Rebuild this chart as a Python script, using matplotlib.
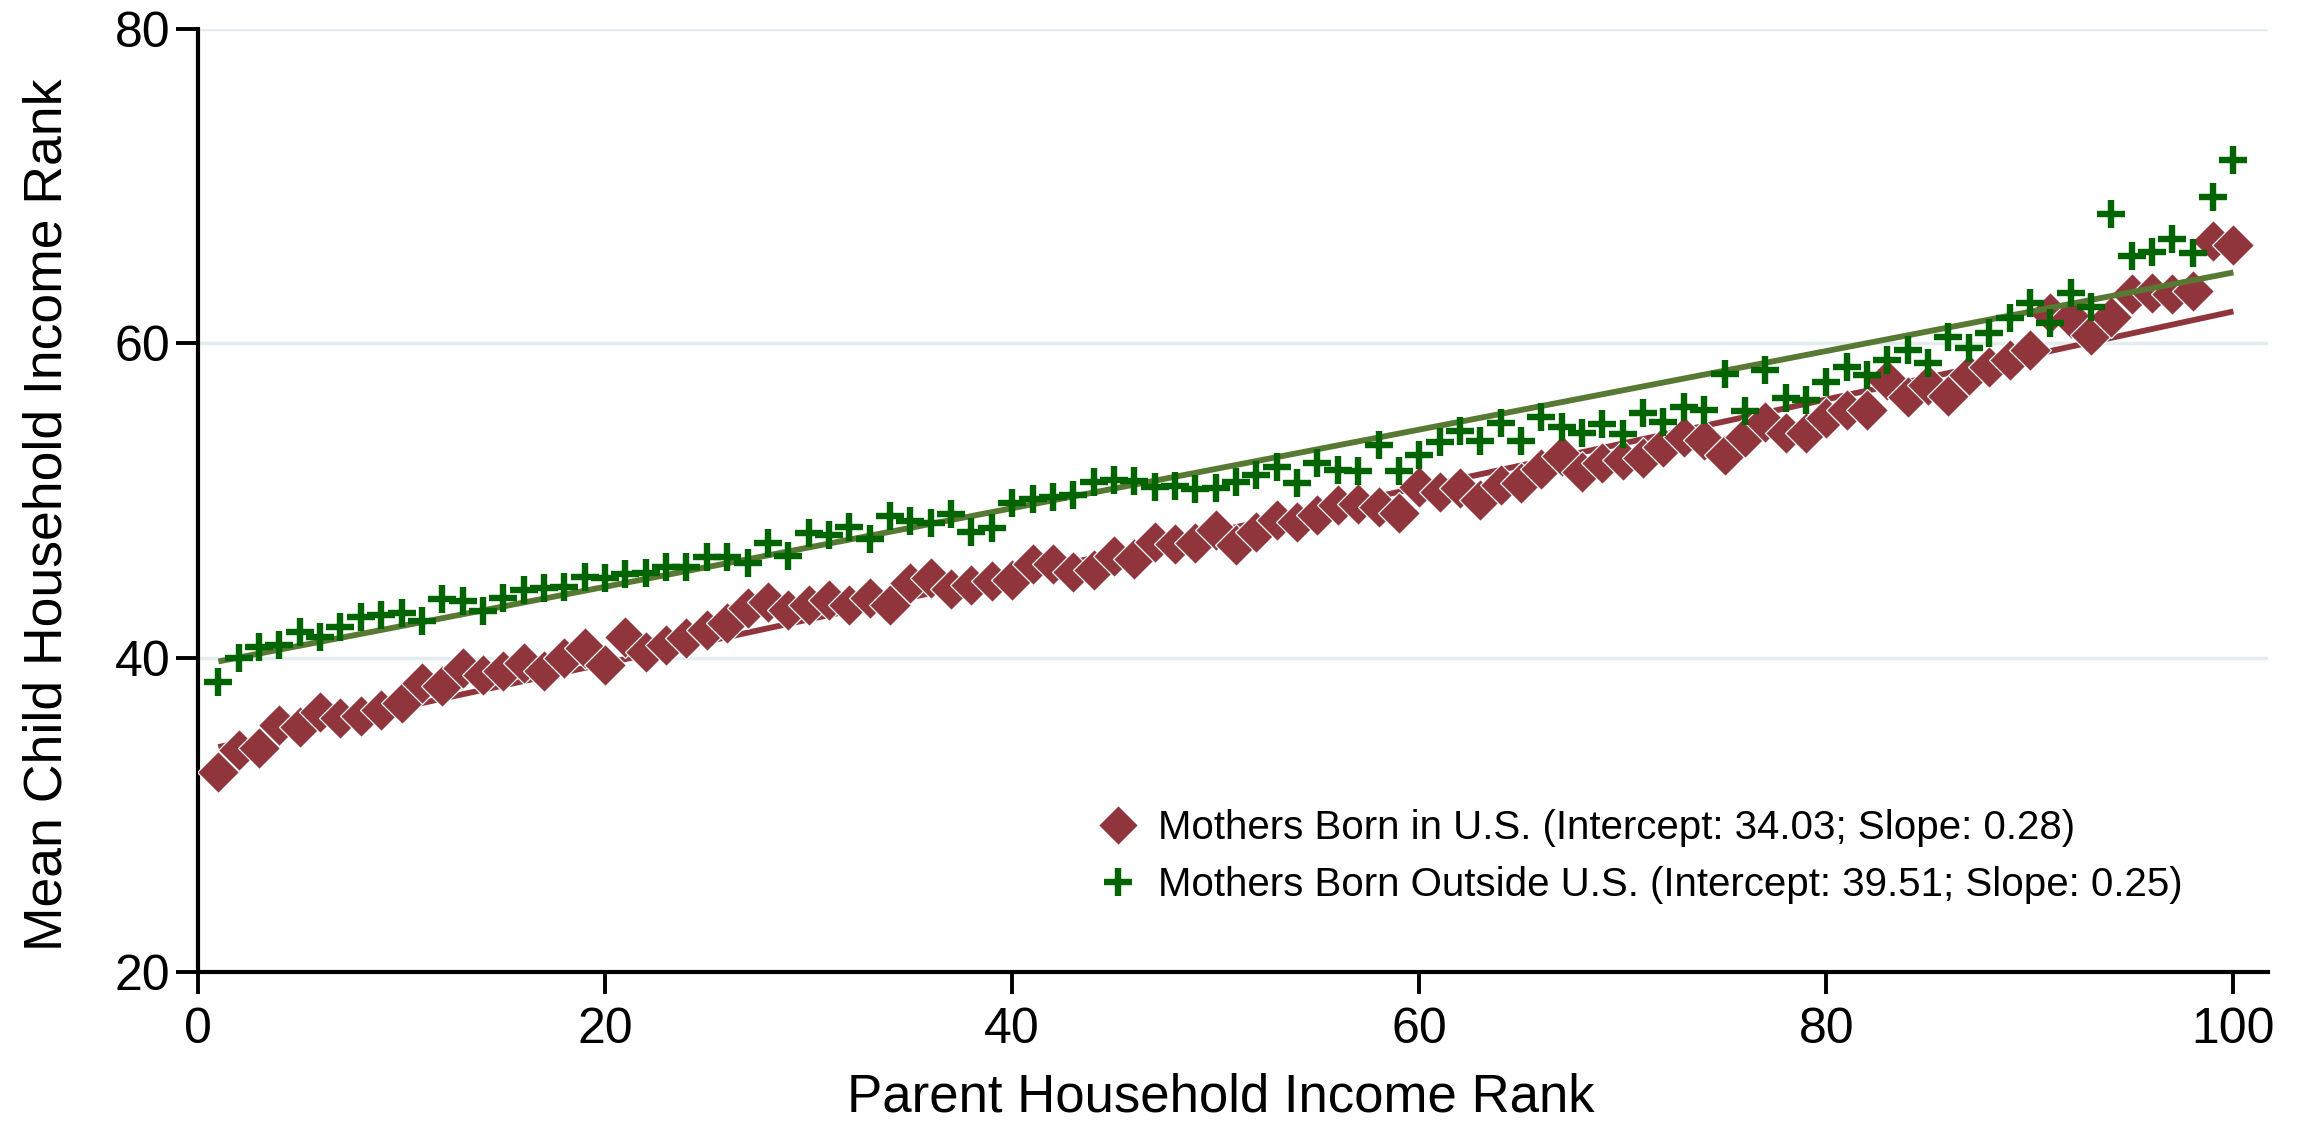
import numpy as np
import matplotlib
matplotlib.use("Agg")
import matplotlib.pyplot as plt
from matplotlib.lines import Line2D

plt.rcParams['font.family'] = ['Liberation Sans', 'DejaVu Sans']

# Parent income rank (percentiles 1..100)
parent_rank = np.arange(1, 101)

# Mean child household income rank, mothers born in the U.S.
child_rank_us = [
    32.75, 34.13, 34.24, 35.73, 35.60, 36.57, 36.15, 36.26, 36.68, 37.11,
    38.38, 38.17, 39.33, 38.91, 39.12, 39.65, 39.17, 39.97, 40.60, 39.54,
    41.34, 40.39, 40.81, 41.24, 41.77, 42.19, 43.15, 43.57, 43.04, 43.36,
    43.68, 43.36, 43.78, 43.35, 44.74, 45.06, 44.36, 44.63, 44.90, 44.95,
    45.97, 45.97, 45.48, 45.59, 46.48, 46.27, 47.39, 47.24, 47.28, 48.13,
    47.18, 48.02, 48.77, 48.66, 49.08, 49.72, 49.78, 49.61, 49.19, 50.89,
    50.57, 50.78, 50.04, 50.99, 51.10, 51.99, 52.85, 51.84, 52.37, 52.58,
    52.69, 53.43, 54.06, 53.85, 52.90, 54.06, 55.02, 54.28, 54.28, 55.24,
    55.76, 55.76, 57.67, 56.59, 57.35, 56.65, 57.99, 58.52, 58.94, 59.58,
    61.91, 61.60, 60.53, 61.70, 63.14, 63.23, 63.14, 63.35, 66.53, 66.26,
]

# Mean child household income rank, mothers born outside the U.S.
child_rank_foreign = [
    38.42, 39.97, 40.67, 40.81, 41.66, 41.34, 41.94, 42.61, 42.72, 42.87,
    42.36, 43.72, 43.63, 43.00, 43.78, 44.31, 44.45, 44.52, 45.16, 45.10,
    45.33, 45.37, 45.76, 45.80, 46.39, 46.43, 46.01, 47.32, 46.48, 47.96,
    47.81, 48.34, 47.54, 49.00, 48.70, 48.60, 49.15, 48.02, 48.24, 49.83,
    50.08, 50.25, 50.36, 51.20, 51.31, 51.27, 50.89, 50.93, 50.72, 50.78,
    51.17, 51.63, 52.16, 51.14, 52.41, 51.95, 51.90, 53.54, 51.88, 52.90,
    53.75, 54.45, 53.79, 54.96, 53.79, 55.30, 54.70, 54.28, 54.87, 54.24,
    55.55, 55.02, 55.97, 55.76, 58.05, 55.72, 58.31, 56.51, 56.40, 57.56,
    58.48, 57.99, 58.94, 59.58, 58.73, 60.39, 59.69, 60.64, 61.60, 62.55,
    61.32, 63.19, 62.33, 68.21, 65.56, 65.79, 66.62, 65.73, 69.33, 71.67,
]

# Linear fit parameters
fit_us = (34.03, 0.28)        # intercept, slope
fit_foreign = (39.51, 0.25)

labels = [
    "Mothers Born in U.S. (Intercept: 34.03; Slope: 0.28)",
    "Mothers Born Outside U.S. (Intercept: 39.51; Slope: 0.25)",
]

x_ticks = [0, 20, 40, 60, 80, 100]
y_ticks = [20, 40, 60, 80]

maroon = "#90353C"
dark_green = "#006400"
olive = "#587934"
grid_color = "#E3EDEF"

diamond_size = 21.5
plus_size = 19.5
plus_width = 4.6

W, H = 2302, 1124
fig = plt.figure(figsize=(W / 100, H / 100), dpi=100)
ax = fig.add_axes([198 / W, (H - 972) / H, (2268 - 198) / W, (972 - 29) / H])

xs = np.array([parent_rank[0], parent_rank[-1]])
ax.plot(xs, fit_us[0] + fit_us[1] * xs, color=maroon, lw=4.2,
        solid_capstyle='butt', zorder=2)
ax.plot(parent_rank, child_rank_us, linestyle='none', marker='D',
        markersize=diamond_size, markerfacecolor=maroon, markeredgecolor='white',
        markeredgewidth=0.9, zorder=3)
ax.plot(xs, fit_foreign[0] + fit_foreign[1] * xs, color=olive, lw=4.2,
        solid_capstyle='butt', zorder=4)
ax.plot(parent_rank, child_rank_foreign, linestyle='none', marker='+',
        markersize=plus_size, markeredgecolor=dark_green,
        markeredgewidth=plus_width, zorder=5)

ax.set_xlim(0, 101.7)
ax.set_ylim(20, 80)
ax.set_xticks(x_ticks)
ax.set_yticks(y_ticks)

for yv in y_ticks[1:]:
    ax.axhline(yv, color=grid_color, lw=2.5, zorder=1)

for side in ("top", "right"):
    ax.spines[side].set_visible(False)
for side in ("left", "bottom"):
    ax.spines[side].set_linewidth(3.0)
    ax.spines[side].set_color("black")

ax.tick_params(axis='both', direction='out', length=16, width=2.8,
               labelsize=36, color='black')
ax.tick_params(axis='y', pad=4)
ax.tick_params(axis='x', pad=9)

ax.set_xlabel("Parent Household Income Rank", fontsize=38)
ax.set_ylabel("Mean Child Household Income Rank", fontsize=38.5)
ax.xaxis.set_label_coords(0.494, -0.107)
ax.yaxis.set_label_coords(-0.0604, 0.485)

handles = [
    Line2D([], [], linestyle='none', marker='D', markersize=20,
           markerfacecolor=maroon, markeredgecolor='white', markeredgewidth=0.9),
    Line2D([], [], linestyle='none', marker='+', markersize=plus_size,
           markeredgecolor=dark_green, markeredgewidth=plus_width),
]
fig.legend(handles, labels, loc='upper left',
           bbox_to_anchor=(1098 / W, 1 - 809 / H), frameon=False,
           fontsize=29, handlelength=1.0, handletextpad=0.5,
           labelspacing=0.48, borderpad=0, borderaxespad=0)

fig.savefig("out.png", dpi=100, facecolor='white')
